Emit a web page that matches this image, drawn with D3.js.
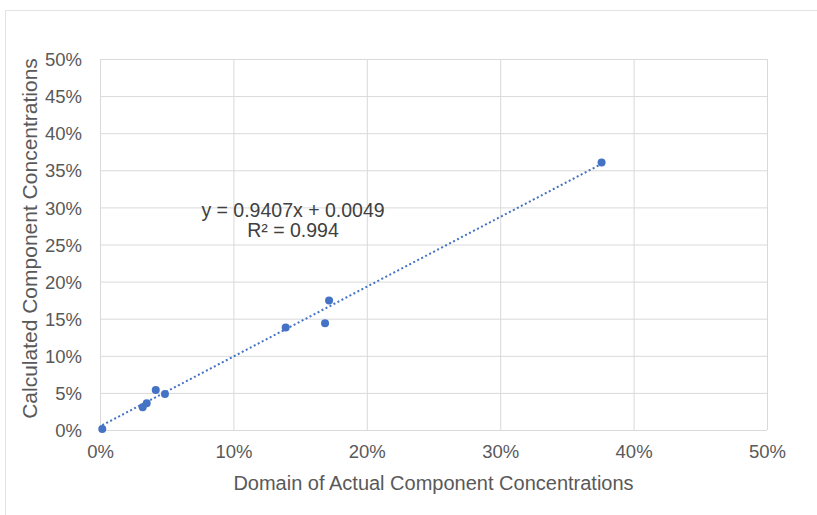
<!DOCTYPE html>
<html>
<head>
<script src="https://cdn.jsdelivr.net/npm/d3@7"></script>
  <style type="text/css">
    body {
      margin: 0;
      background: #fff;
      font-family: "Liberation Sans", Arial, Helvetica, sans-serif;
    }
    .grid line { stroke: #d9d9d9; stroke-width: 1; }
    .tick text { fill: #595959; font-size: 18.5px; }
    .dot { fill: #4472c4; }
  </style>
</head>
<body>
<script type="text/javascript">

  // actual vs calculated concentrations (fractions)
  var actual     = [0.0017, 0.032, 0.035, 0.0418, 0.0487, 0.1392, 0.1687, 0.1717, 0.376];
  var calculated = [0.0013, 0.0306, 0.036, 0.054, 0.0486, 0.138, 0.144, 0.1744, 0.3605];
  var xTicks = [0, 0.1, 0.2, 0.3, 0.4, 0.5];
  var yTicks = [0, 0.05, 0.1, 0.15, 0.2, 0.25, 0.3, 0.35, 0.4, 0.45, 0.5];
  var slope = 0.9407, intercept = 0.0049;
  var eqLines = ["y = 0.9407x + 0.0049", "R² = 0.994"];

  var W = 817, H = 515;
  var margin = {top: 59, left: 100, right: 50, bottom: 85};
  var width = W - margin.left - margin.right;
  var height = H - margin.top - margin.bottom;

  var svg = d3.select("body").append("svg")
      .attr("width", W)
      .attr("height", H);

  // chart frame
  svg.append("rect")
      .attr("x", 5.5).attr("y", 10.5)
      .attr("width", W).attr("height", H)
      .attr("fill", "none")
      .attr("stroke", "#e3e3e3");

  var g = svg.append("g")
      .attr("transform", "translate(" + margin.left + "," + margin.top + ")");

  var x = d3.scaleLinear().domain([0, 0.5]).range([0, width]);
  var y = d3.scaleLinear().domain([0, 0.5]).range([height, 0]);
  var fmt = d3.format(".0%");

  // gridlines + labels
  var yAxis = g.append("g").attr("class", "grid")
      .call(d3.axisLeft(y).tickValues(yTicks).tickFormat(fmt).tickSize(-width).tickPadding(18));
  var xAxis = g.append("g").attr("class", "grid")
      .attr("transform", "translate(0," + height + ")")
      .call(d3.axisBottom(x).tickValues(xTicks).tickFormat(fmt).tickSize(-height).tickPadding(12));
  g.selectAll(".domain").remove();
  xAxis.selectAll(".tick text").attr("dy", "0.85em");
  yAxis.selectAll(".tick text").attr("dy", "0.36em");

  // trendline over data range
  var xmin = d3.min(actual), xmax = d3.max(actual);
  g.append("line")
      .attr("x1", x(xmin)).attr("y1", y(slope * xmin + intercept))
      .attr("x2", x(xmax)).attr("y2", y(slope * xmax + intercept))
      .attr("stroke", "#4472c4")
      .attr("stroke-width", 2)
      .attr("stroke-dasharray", "2,2.5");

  g.selectAll(".dot")
      .data(actual)
    .enter().append("circle")
      .attr("class", "dot")
      .attr("r", 4)
      .attr("cx", function(d) { return x(d); })
      .attr("cy", function(d, i) { return y(calculated[i]); });

  // equation label
  g.append("text")
      .attr("x", 193).attr("y", 158)
      .attr("text-anchor", "middle")
      .attr("fill", "#404040")
      .style("font-size", "19.5px")
    .selectAll("tspan")
      .data(eqLines)
    .enter().append("tspan")
      .attr("x", 193)
      .attr("dy", function(d, i) { return i ? "1.05em" : 0; })
      .text(function(d) { return d; });

  // axis titles
  svg.append("text")
      .attr("x", margin.left + width / 2).attr("y", 490)
      .attr("text-anchor", "middle")
      .attr("fill", "#595959")
      .style("font-size", "20px")
      .text("Domain of Actual Component Concentrations");

  svg.append("text")
      .attr("transform", "translate(37," + (margin.top + height / 2 - 6) + ") rotate(-90)")
      .attr("text-anchor", "middle")
      .attr("fill", "#595959")
      .style("font-size", "21px")
      .text("Calculated Component Concentrations");

</script>
</body>
</html>
